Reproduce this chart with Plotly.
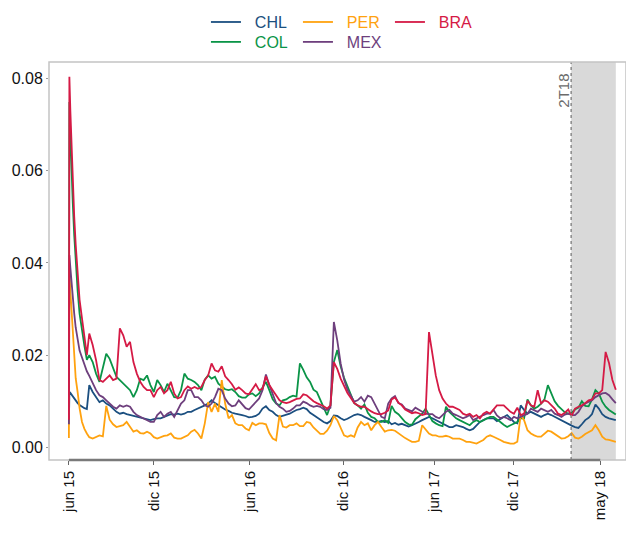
import pandas as pd
import plotly.graph_objects as go

# observation dates: a few dense days at the start, then weekly
start = pd.Timestamp("2015-06-01")
early_days = [0, 1, 3, 5, 8, 11, 14, 18, 22, 27, 32, 37]
dates = [start + pd.Timedelta(days=d) for d in early_days] + \
    list(pd.date_range("2015-07-13", periods=156, freq="7D"))

chl = [
    0.0050, 0.0120, 0.0118, 0.0115, 0.0110, 0.0105, 0.0100, 0.0096, 0.0092, 0.0088, 0.0085, 0.0083,
    0.0135, 0.0120, 0.0109, 0.0098, 0.0102, 0.0095, 0.0091, 0.0084, 0.0077, 0.0073,
    0.0075, 0.0072, 0.0070, 0.0068, 0.0066, 0.0064, 0.0063, 0.0061, 0.0059, 0.0061,
    0.0063, 0.0063, 0.0066, 0.0068, 0.0072,
    0.0071, 0.0073, 0.0071, 0.0073, 0.0077, 0.0077, 0.0081, 0.0084, 0.0088, 0.0091,
    0.0095, 0.0102, 0.0096, 0.0091, 0.0086, 0.0082, 0.0079, 0.0075, 0.0073, 0.0072,
    0.0070, 0.0068, 0.0065, 0.0066, 0.0068, 0.0073, 0.0084, 0.0089, 0.0081, 0.0077,
    0.0070, 0.0066,
    0.0068, 0.0071, 0.0073, 0.0077, 0.0081, 0.0083, 0.0086, 0.0083, 0.0075, 0.0070,
    0.0065, 0.0060, 0.0055, 0.0052, 0.0057, 0.0069, 0.0068, 0.0063, 0.0059, 0.0062,
    0.0066, 0.0070, 0.0072, 0.0070, 0.0066, 0.0063, 0.0059, 0.0055, 0.0055, 0.0057,
    0.0055, 0.0057,
    0.0050, 0.0053, 0.0049, 0.0051, 0.0048, 0.0045, 0.0048, 0.0051, 0.0055, 0.0059,
    0.0063, 0.0066, 0.0063, 0.0059, 0.0055, 0.0052, 0.0048, 0.0044, 0.0044, 0.0048,
    0.0046, 0.0044, 0.0040, 0.0037, 0.0040, 0.0048, 0.0055, 0.0059, 0.0063, 0.0063,
    0.0063,
    0.0057, 0.0061, 0.0066, 0.0070, 0.0063, 0.0055, 0.0052, 0.0091, 0.0081, 0.0073,
    0.0077, 0.0073, 0.0070, 0.0066, 0.0070, 0.0073, 0.0070, 0.0066, 0.0063, 0.0059,
    0.0055, 0.0051, 0.0047, 0.0044, 0.0042, 0.0050, 0.0059, 0.0064, 0.0072, 0.0093,
    0.0084, 0.0072, 0.0066, 0.0063, 0.0061, 0.0059,
]

col = [
    0.0050, 0.0749, 0.0680, 0.0610, 0.0530, 0.0460, 0.0400, 0.0340, 0.0290, 0.0250, 0.0220, 0.0190,
    0.0200, 0.0185, 0.0160, 0.0142, 0.0171, 0.0203, 0.0192, 0.0174, 0.0153, 0.0146,
    0.0138, 0.0131, 0.0124, 0.0109, 0.0124, 0.0149, 0.0146, 0.0156, 0.0135, 0.0120,
    0.0146, 0.0135, 0.0120, 0.0138, 0.0124,
    0.0109, 0.0108, 0.0124, 0.0160, 0.0149, 0.0146, 0.0142, 0.0135, 0.0124, 0.0147,
    0.0156, 0.0149, 0.0153, 0.0138, 0.0131, 0.0126, 0.0124, 0.0126, 0.0120, 0.0111,
    0.0108, 0.0108, 0.0115, 0.0117, 0.0111, 0.0117, 0.0130, 0.0142, 0.0124, 0.0104,
    0.0095, 0.0091,
    0.0102, 0.0104, 0.0109, 0.0112, 0.0110, 0.0182, 0.0168, 0.0152, 0.0142, 0.0125,
    0.0120, 0.0102, 0.0084, 0.0070, 0.0091, 0.0185, 0.0211, 0.0176, 0.0151, 0.0132,
    0.0111, 0.0096, 0.0091, 0.0084, 0.0093, 0.0075, 0.0066, 0.0063, 0.0055, 0.0055,
    0.0059, 0.0053,
    0.0090, 0.0077, 0.0072, 0.0064, 0.0055, 0.0050, 0.0049, 0.0061, 0.0068, 0.0073,
    0.0084, 0.0070, 0.0057, 0.0052, 0.0048, 0.0046, 0.0088, 0.0077, 0.0070, 0.0063,
    0.0059, 0.0055, 0.0052, 0.0048, 0.0055, 0.0059, 0.0055, 0.0059, 0.0063, 0.0066,
    0.0066,
    0.0061, 0.0055, 0.0049, 0.0044, 0.0048, 0.0052, 0.0055, 0.0063, 0.0063, 0.0104,
    0.0091, 0.0084, 0.0088, 0.0095, 0.0104, 0.0135, 0.0117, 0.0100, 0.0090, 0.0083,
    0.0076, 0.0073, 0.0075, 0.0082, 0.0086, 0.0100, 0.0090, 0.0089, 0.0104, 0.0124,
    0.0117, 0.0099, 0.0088, 0.0081, 0.0076, 0.0071,
]

per = [
    0.0020, 0.0384, 0.0340, 0.0300, 0.0240, 0.0190, 0.0150, 0.0120, 0.0085, 0.0055, 0.0040, 0.0030,
    0.0022, 0.0019, 0.0022, 0.0026, 0.0024, 0.0090, 0.0060, 0.0050, 0.0044, 0.0046,
    0.0048, 0.0055, 0.0044, 0.0034, 0.0037, 0.0031, 0.0030, 0.0034, 0.0030, 0.0022,
    0.0019, 0.0022, 0.0025, 0.0026, 0.0030,
    0.0021, 0.0019, 0.0019, 0.0023, 0.0026, 0.0034, 0.0038, 0.0030, 0.0019, 0.0052,
    0.0098, 0.0077, 0.0095, 0.0077, 0.0146, 0.0095, 0.0063, 0.0070, 0.0052, 0.0048,
    0.0048, 0.0041, 0.0037, 0.0053, 0.0048, 0.0052, 0.0052, 0.0050, 0.0031, 0.0019,
    0.0015, 0.0070,
    0.0045, 0.0043, 0.0048, 0.0048, 0.0052, 0.0046, 0.0046, 0.0055, 0.0053, 0.0043,
    0.0036, 0.0029, 0.0029, 0.0036, 0.0048, 0.0068, 0.0059, 0.0041, 0.0026, 0.0023,
    0.0026, 0.0023, 0.0043, 0.0055, 0.0048, 0.0052, 0.0037, 0.0048, 0.0055, 0.0044,
    0.0034, 0.0037,
    0.0038, 0.0036, 0.0031, 0.0024, 0.0020, 0.0016, 0.0012, 0.0012, 0.0014, 0.0048,
    0.0038, 0.0030, 0.0026, 0.0026, 0.0023, 0.0023, 0.0025, 0.0023, 0.0019, 0.0019,
    0.0019, 0.0016, 0.0012, 0.0012, 0.0010, 0.0008, 0.0012, 0.0016, 0.0023, 0.0026,
    0.0023,
    0.0020, 0.0016, 0.0012, 0.0010, 0.0008, 0.0008, 0.0012, 0.0070, 0.0059, 0.0037,
    0.0030, 0.0026, 0.0023, 0.0023, 0.0030, 0.0036, 0.0034, 0.0029, 0.0023, 0.0019,
    0.0020, 0.0024, 0.0031, 0.0021, 0.0019, 0.0023, 0.0029, 0.0033, 0.0037, 0.0048,
    0.0037, 0.0023, 0.0017, 0.0016, 0.0014, 0.0012,
]

mex = [
    0.0050, 0.0417, 0.0390, 0.0360, 0.0320, 0.0290, 0.0260, 0.0230, 0.0210, 0.0195, 0.0180, 0.0165,
    0.0155, 0.0138, 0.0124, 0.0113, 0.0109, 0.0102, 0.0095, 0.0088, 0.0084, 0.0091,
    0.0088, 0.0091, 0.0088, 0.0077, 0.0070, 0.0066, 0.0063, 0.0059, 0.0055, 0.0055,
    0.0070, 0.0077, 0.0066, 0.0073, 0.0077,
    0.0066, 0.0081, 0.0095, 0.0102, 0.0124, 0.0124, 0.0109, 0.0109, 0.0102, 0.0091,
    0.0088, 0.0095, 0.0109, 0.0127, 0.0124, 0.0106, 0.0095, 0.0089, 0.0091, 0.0102,
    0.0093, 0.0085, 0.0082, 0.0090, 0.0099, 0.0106, 0.0124, 0.0158, 0.0135, 0.0115,
    0.0096, 0.0088,
    0.0084, 0.0077, 0.0079, 0.0084, 0.0091, 0.0091, 0.0099, 0.0096, 0.0091, 0.0088,
    0.0090, 0.0088, 0.0083, 0.0081, 0.0086, 0.0272, 0.0232, 0.0182, 0.0147, 0.0125,
    0.0111, 0.0099, 0.0102, 0.0109, 0.0099, 0.0112, 0.0109, 0.0095, 0.0081, 0.0066,
    0.0063, 0.0095,
    0.0106, 0.0111, 0.0096, 0.0093, 0.0084, 0.0081, 0.0078, 0.0086, 0.0082, 0.0077,
    0.0073, 0.0072, 0.0072, 0.0066, 0.0063, 0.0070, 0.0077, 0.0081, 0.0073, 0.0070,
    0.0066, 0.0063, 0.0066, 0.0070, 0.0059, 0.0063, 0.0066, 0.0070, 0.0073, 0.0073,
    0.0081,
    0.0069, 0.0063, 0.0066, 0.0063, 0.0059, 0.0066, 0.0063, 0.0066, 0.0070, 0.0073,
    0.0084, 0.0081, 0.0077, 0.0084, 0.0081, 0.0077, 0.0081, 0.0073, 0.0070, 0.0066,
    0.0071, 0.0073, 0.0070, 0.0070, 0.0077, 0.0089, 0.0095, 0.0099, 0.0102, 0.0109,
    0.0113, 0.0117, 0.0118, 0.0113, 0.0104, 0.0096,
]

bra = [
    0.0060, 0.0804, 0.0730, 0.0660, 0.0570, 0.0500, 0.0440, 0.0370, 0.0320, 0.0280, 0.0240, 0.0200,
    0.0247, 0.0222, 0.0189, 0.0146, 0.0142, 0.0149, 0.0156, 0.0146, 0.0149, 0.0258,
    0.0243, 0.0218, 0.0229, 0.0185, 0.0160, 0.0142, 0.0131, 0.0124, 0.0124, 0.0109,
    0.0124, 0.0131, 0.0117, 0.0124, 0.0142,
    0.0117, 0.0106, 0.0109, 0.0124, 0.0132, 0.0127, 0.0131, 0.0127, 0.0131, 0.0146,
    0.0156, 0.0182, 0.0167, 0.0164, 0.0176, 0.0154, 0.0146, 0.0137, 0.0125, 0.0130,
    0.0124, 0.0117, 0.0115, 0.0125, 0.0137, 0.0124, 0.0127, 0.0154, 0.0135, 0.0124,
    0.0113, 0.0102,
    0.0098, 0.0096, 0.0098, 0.0102, 0.0105, 0.0106, 0.0115, 0.0113, 0.0106, 0.0100,
    0.0096, 0.0093, 0.0089, 0.0084, 0.0091, 0.0185, 0.0170, 0.0149, 0.0132, 0.0118,
    0.0107, 0.0096, 0.0091, 0.0088, 0.0088, 0.0082, 0.0078, 0.0074, 0.0072, 0.0072,
    0.0075, 0.0080,
    0.0104, 0.0108, 0.0097, 0.0091, 0.0082, 0.0078, 0.0074, 0.0076, 0.0074, 0.0070,
    0.0072, 0.0250, 0.0200, 0.0156, 0.0124, 0.0106, 0.0095, 0.0088, 0.0088, 0.0084,
    0.0081, 0.0073, 0.0070, 0.0073, 0.0066, 0.0070, 0.0063, 0.0073, 0.0077, 0.0073,
    0.0081,
    0.0091, 0.0091, 0.0091, 0.0084, 0.0077, 0.0073, 0.0086, 0.0070, 0.0073, 0.0101,
    0.0091, 0.0088, 0.0124, 0.0095, 0.0102, 0.0099, 0.0091, 0.0084, 0.0073, 0.0070,
    0.0075, 0.0082, 0.0068, 0.0084, 0.0088, 0.0091, 0.0096, 0.0102, 0.0104, 0.0117,
    0.0117, 0.0124, 0.0207, 0.0183, 0.0146, 0.0125,
]

tick_dates = ["2015-06-01", "2015-11-23", "2016-06-08", "2016-12-17",
              "2017-06-23", "2017-12-03", "2018-05-31"]
tick_labels = ["jun 15", "dic 15", "jun 16", "dic 16", "jun 17", "dic 17", "may 18"]
quarter_start = "2018-04-01"
quarter_label = "2T18"

series = [
    # name, values, color, legend, rank
    ("CHL", chl, "#1b4f80", "legend", 1),
    ("COL", col, "#0a9447", "legend2", 1),
    ("PER", per, "#ffa20f", "legend", 2),
    ("MEX", mex, "#6e3f7d", "legend2", 2),
    ("BRA", bra, "#d51a45", "legend", 3),
]

font_family = "Liberation Sans, Arial, sans-serif"

fig = go.Figure()
for name, values, color, leg, rank in series:
    assert len(values) == len(dates), name
    # two no-break spaces widen the gap between legend line and label
    fig.add_trace(go.Scatter(
        x=dates, y=values, mode="lines",
        name=f"<span style='color:{color}'>\u00a0\u00a0{name}</span>",
        line=dict(color=color, width=1.8), legend=leg, legendrank=rank,
    ))

# shaded quarter and its dotted border
fig.add_shape(type="rect", xref="x", yref="paper", x0=quarter_start, x1=dates[-1],
              y0=0, y1=1, fillcolor="#d9d9d9", line_width=0, layer="below")
fig.add_shape(type="line", xref="x", yref="paper", x0=quarter_start, x1=quarter_start,
              y0=0, y1=1, line=dict(color="#8a8a8a", width=1.5, dash="dot"))
fig.add_annotation(x=quarter_start, y=1, xref="x", yref="paper", text=quarter_label,
                   textangle=-90, showarrow=False, xanchor="right", yanchor="top",
                   yshift=-10, xshift=2, font=dict(size=15, color="#6b6b6b", family=font_family))

# light frame + darker axis line between first and last tick
fig.add_shape(type="rect", xref="paper", yref="paper", x0=0, x1=1, y0=0, y1=1,
              line=dict(color="#c4c4c4", width=1.5), layer="above")
fig.add_shape(type="line", xref="x", yref="paper", x0=tick_dates[0], x1=tick_dates[-1],
              y0=0, y1=0, line=dict(color="#7a7a7a", width=2.5), layer="above")

legend_common = dict(orientation="h", xanchor="left", yanchor="top", x=0.272,
                     entrywidth=47, itemwidth=30, bgcolor="rgba(0,0,0,0)",
                     font=dict(size=16, family=font_family))

fig.update_layout(
    width=626, height=534,
    margin=dict(l=49, r=0, t=62, b=74, autoexpand=False),
    paper_bgcolor="white", plot_bgcolor="white",
    font=dict(family=font_family, color="#222222"),
    showlegend=True,
    legend=dict(y=1.143, **legend_common),
    legend2=dict(y=1.093, **legend_common),
    xaxis=dict(
        type="date", range=["2015-04-21", "2018-07-23"],
        tickvals=tick_dates, ticktext=tick_labels, tickangle=-90,
        ticks="outside", ticklen=4, tickcolor="#666666", tickwidth=1,
        showgrid=False, zeroline=False, showline=False, automargin=False,
        tickfont=dict(size=15, color="#111111"),
    ),
    yaxis=dict(
        range=[-0.00275, 0.0836], tickvals=[0, 0.02, 0.04, 0.06, 0.08],
        tickformat=".2f", ticks="outside", ticklen=2, tickcolor="#9a9a9a",
        showgrid=False, zeroline=False, showline=False, automargin=False,
        tickfont=dict(size=16, color="#111111"),
    ),
)

# the page's default body margin would shift the figure by 8px
fig.write_html("out.html", config={"displayModeBar": False},
               post_script="document.body.style.margin = '0';")
